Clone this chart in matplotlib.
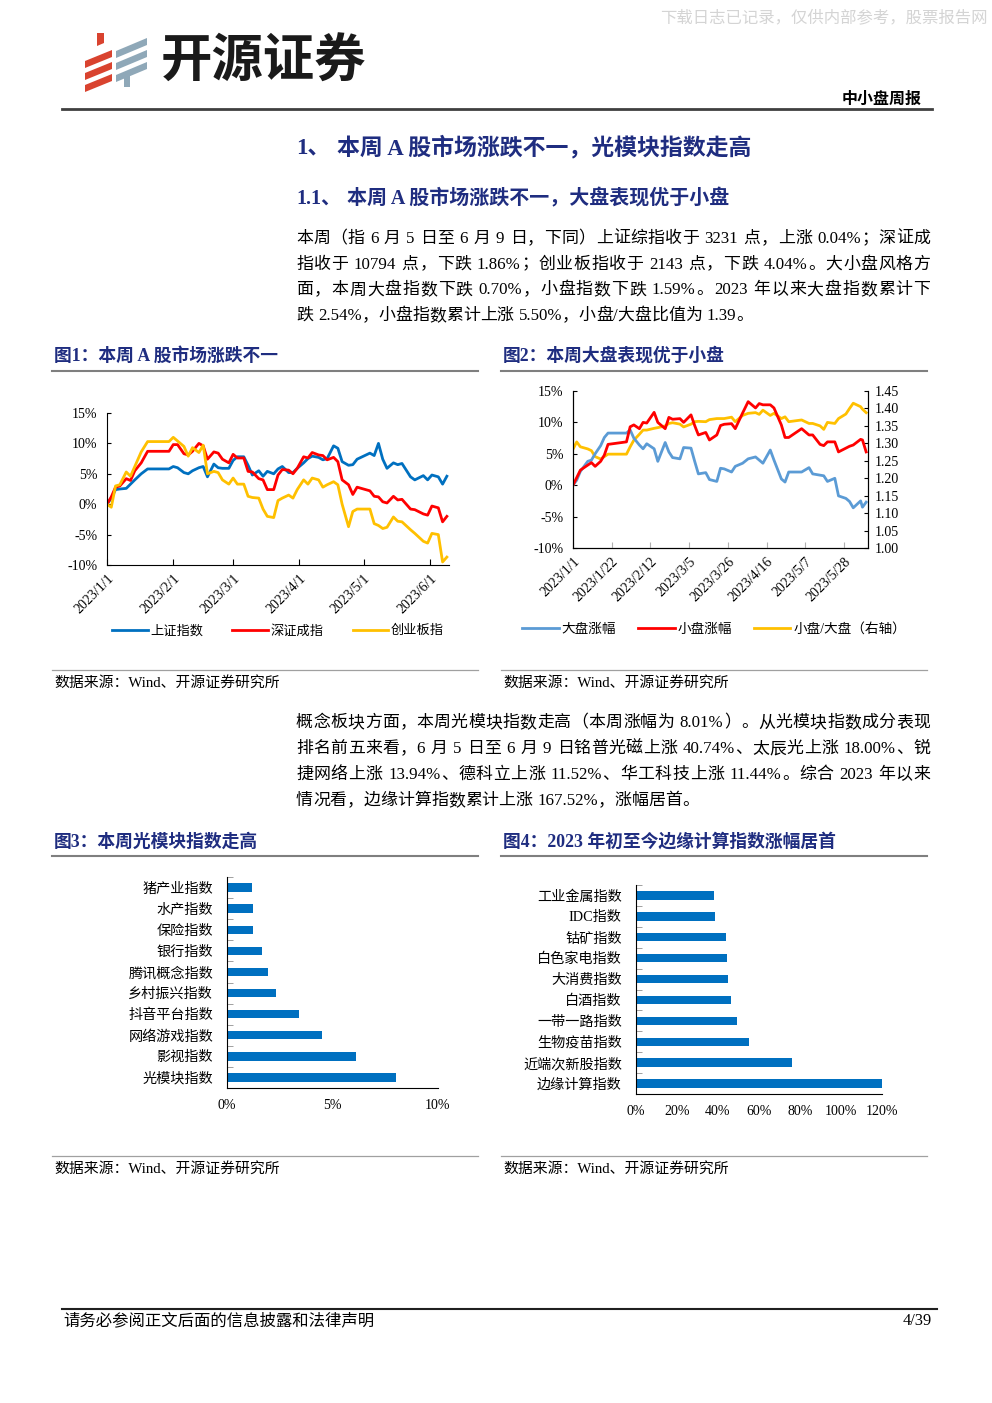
import re
import numpy as np
import pandas as pd
import matplotlib
matplotlib.use("Agg")
import matplotlib.pyplot as plt
from matplotlib.patches import Polygon
from matplotlib.lines import Line2D
from matplotlib.ticker import FuncFormatter

plt.rcParams['font.family'] = ['Liberation Serif', 'Noto Sans CJK SC']
plt.rcParams['axes.unicode_minus'] = False

W, H = 992, 1403
NAVY = '#1F2D80'

# -- 图1 本周A股市场涨跌不一 (%)
dates1 = ['2023-01-01', '2023-01-03', '2023-01-05', '2023-01-07', '2023-01-10', '2023-01-12',
          '2023-01-14', '2023-01-17', '2023-01-20', '2023-01-30', '2023-02-01', '2023-02-03',
          '2023-02-06', '2023-02-08', '2023-02-10', '2023-02-13', '2023-02-15', '2023-02-17',
          '2023-02-20', '2023-02-22', '2023-02-24', '2023-02-27', '2023-03-01', '2023-03-03',
          '2023-03-06', '2023-03-08', '2023-03-10', '2023-03-13', '2023-03-15', '2023-03-17',
          '2023-03-20', '2023-03-22', '2023-03-24', '2023-03-27', '2023-03-29', '2023-03-31',
          '2023-04-03', '2023-04-05', '2023-04-07', '2023-04-10', '2023-04-12', '2023-04-14',
          '2023-04-17', '2023-04-19', '2023-04-21', '2023-04-24', '2023-04-26', '2023-04-28',
          '2023-05-04', '2023-05-06', '2023-05-08', '2023-05-10', '2023-05-12', '2023-05-15',
          '2023-05-17', '2023-05-19', '2023-05-23', '2023-05-25', '2023-05-29', '2023-05-31',
          '2023-06-02', '2023-06-05', '2023-06-07', '2023-06-09']
sh_index = [0, 1.0, 2.4, 2.5, 2.6, 3.3, 4.0, 5.0, 5.8, 5.8, 6.2, 6.0, 5.2, 5.0, 5.5, 6.0,
            6.2, 4.5, 6.6, 6.0, 5.9, 5.9, 7.2, 7.8, 7.8, 6.4, 4.8, 5.5, 4.6, 5.4, 5.0, 5.8,
            6.2, 5.2, 5.2, 5.9, 6.8, 7.5, 7.9, 7.7, 7.3, 7.5, 9.6, 9.2, 7.0, 6.4, 6.5, 7.4,
            8.4, 8.0, 10.0, 7.4, 5.9, 6.8, 6.5, 6.7, 4.5, 4.0, 4.7, 4.0, 4.8, 4.5, 3.3, 4.6]
sz_index = [0, 1.2, 2.8, 3.0, 4.2, 3.9, 5.5, 6.8, 8.7, 8.7, 9.8, 9.8, 8.3, 8.1, 8.7, 10.0,
            9.6, 7.4, 8.6, 8.4, 7.4, 6.8, 8.2, 7.6, 7.6, 5.4, 5.3, 4.2, 4.0, 2.4, 2.4, 4.8,
            5.7, 5.6, 5.0, 5.9, 7.8, 7.6, 8.5, 8.1, 8.0, 7.3, 7.7, 7.0, 4.0, 3.2, 1.6, 2.8,
            2.2, 1.3, 1.2, 0.4, 0.2, 1.3, 0.7, 0.8, -0.8, -0.9, -1.6, -1.8, -0.3, -0.6, -2.9, -2.0]
cyb_index = [0, -0.5, 3.0, 3.2, 5.3, 4.6, 6.2, 8.6, 10.3, 10.3, 11.0, 10.4, 9.5, 7.9, 9.3, 8.5,
             9.7, 5.0, 5.4, 5.2, 4.0, 3.3, 4.3, 3.3, 3.3, 1.3, 1.1, 1.0, -0.8, -2.0, -2.2, 0.6,
             1.0, 1.5, 1.0, 2.4, 4.0, 3.3, 4.3, 4.0, 2.8, 3.2, 3.7, 3.2, 0.0, -3.7, -1.2, -0.8,
             -0.8, -3.2, -3.5, -4.0, -3.8, -2.1, -2.8, -2.9, -4.2, -4.8, -6.1, -6.4, -4.8, -5.0, -9.5, -8.7]
ticks1 = ['2023-01-01', '2023-02-01', '2023-03-01', '2023-04-01', '2023-05-01', '2023-06-01']

# -- 图2 本周大盘表现优于小盘
dates2 = ['2023-01-01', '2023-01-03', '2023-01-05', '2023-01-09', '2023-01-11', '2023-01-13',
          '2023-01-16', '2023-01-18', '2023-01-20', '2023-01-30', '2023-02-01', '2023-02-03',
          '2023-02-06', '2023-02-08', '2023-02-10', '2023-02-14', '2023-02-16', '2023-02-20',
          '2023-02-22', '2023-02-24', '2023-02-28', '2023-03-02', '2023-03-06', '2023-03-08',
          '2023-03-10', '2023-03-14', '2023-03-16', '2023-03-20', '2023-03-22', '2023-03-24',
          '2023-03-28', '2023-03-30', '2023-04-03', '2023-04-06', '2023-04-10', '2023-04-12',
          '2023-04-14', '2023-04-18', '2023-04-20', '2023-04-24', '2023-04-26', '2023-04-28',
          '2023-05-05', '2023-05-09', '2023-05-11', '2023-05-15', '2023-05-17', '2023-05-19',
          '2023-05-23', '2023-05-25', '2023-05-29', '2023-05-31', '2023-06-02', '2023-06-06',
          '2023-06-07', '2023-06-09']
big_cap = [0, 0.8, 2.2, 3.8, 4.0, 5.0, 6.3, 7.6, 8.3, 8.3, 8.8, 7.5, 6.4, 5.8, 6.6, 5.8, 3.8,
           6.8, 5.3, 4.4, 4.2, 6.0, 5.9, 3.8, 1.8, 2.0, 0.9, 0.6, 2.7, 2.6, 2.1, 3.0,
           3.5, 4.2, 4.5, 4.0, 3.5, 5.6, 4.0, 1.0, 0.5, 2.1, 2.1, 2.8, 1.8, 1.6, 1.5, 0.6,
           1.1, -1.7, -2.1, -2.6, -3.6, -2.5, -3.5, -2.7]
small_cap = [0, 1.2, 2.4, 3.2, 3.6, 3.0, 3.8, 4.8, 6.5, 6.9, 9.3, 9.6, 9.0, 10.0, 9.9, 11.6, 10.0,
             9.0, 10.8, 10.5, 10.6, 10.0, 11.2, 9.5, 8.0, 8.4, 7.2, 8.0, 9.5, 9.7, 9.8, 9.0,
             11.5, 13.3, 12.3, 13.0, 12.8, 12.8, 12.3, 9.6, 7.6, 7.6, 9.0, 8.0, 8.0, 6.5, 6.3, 6.9,
             6.9, 5.3, 5.9, 6.2, 6.4, 7.3, 7.2, 5.3]
ratio = [1.283, 1.304, 1.290, 1.284, 1.279, 1.262, 1.255, 1.262, 1.269, 1.269, 1.290, 1.309,
         1.326, 1.338, 1.338, 1.343, 1.345, 1.350, 1.357, 1.359, 1.355, 1.347, 1.355, 1.362,
         1.363, 1.362, 1.368, 1.371, 1.371, 1.371, 1.375, 1.362, 1.380, 1.386, 1.388, 1.383,
         1.395, 1.380, 1.386, 1.371, 1.376, 1.362, 1.367, 1.357, 1.357, 1.350, 1.340, 1.360,
         1.357, 1.371, 1.384, 1.400, 1.415, 1.405, 1.398, 1.388]
ticks2 = ['2023-01-01', '2023-01-22', '2023-02-12', '2023-03-05', '2023-03-26', '2023-04-16',
          '2023-05-07', '2023-05-28']

# -- 图3 本周光模块指数走高 (%)
labels3 = ['猪产业指数', '水产指数', '保险指数', '银行指数', '腾讯概念指数', '乡村振兴指数',
           '抖音平台指数', '网络游戏指数', '影视指数', '光模块指数']
values3 = [1.18, 1.23, 1.23, 1.67, 1.96, 2.34, 3.41, 4.52, 6.13, 8.01]

# -- 图4 2023年初至今边缘计算指数涨幅居首 (%)
labels4 = ['工业金属指数', 'IDC指数', '钴矿指数', '白色家电指数', '大消费指数', '白酒指数',
           '一带一路指数', '生物疫苗指数', '近端次新股指数', '边缘计算指数']
values4 = [38.0, 38.7, 44.1, 44.6, 45.0, 46.5, 49.4, 55.3, 76.3, 167.52]

para1 = ['本周（指 6 月 5 日至 6 月 9 日，下同）上证综指收于 3231 点，上涨 0.04%；深证成',
         '指收于 10794 点，下跌 1.86%；创业板指收于 2143 点，下跌 4.04%。大小盘风格方',
         '面，本周大盘指数下跌 0.70%，小盘指数下跌 1.59%。2023 年以来大盘指数累计下',
         '跌 2.54%，小盘指数累计上涨 5.50%，小盘/大盘比值为 1.39。']
para2 = ['概念板块方面，本周光模块指数走高（本周涨幅为 8.01%）。从光模块指数成分表现',
         '排名前五来看，6 月 5 日至 6 月 9 日铭普光磁上涨 40.74%、太辰光上涨 18.00%、锐',
         '捷网络上涨 13.94%、德科立上涨 11.52%、华工科技上涨 11.44%。综合 2023 年以来',
         '情况看，边缘计算指数累计上涨 167.52%，涨幅居首。']


def rect(x0, y0, x1, y1):
    return [x0 / W, 1 - y1 / H, (x1 - x0) / W, (y1 - y0) / H]


fig = plt.figure(figsize=(W / 100, H / 100), dpi=100)
page = fig.add_axes([0, 0, 1, 1])
page.set_xlim(0, W)
page.set_ylim(H, 0)
page.axis('off')

# header
page.text(660, 18, '下载日志已记录，仅供内部参考，股票报告网', fontsize=11.8, color='#d4d4d4',
          va='center', ha='left')
for k in range(3):
    y0 = 50 + k * 12
    page.add_patch(Polygon([(85, y0 + 11), (112, y0), (112, y0 + 7), (85, y0 + 18)],
                           color='#D9432F', lw=0))
    y0 = 40 + k * 12
    page.add_patch(Polygon([(116, y0 + 11), (147, y0 - 2), (147, y0 + 5), (116, y0 + 18)],
                           color='#8FA8B8', lw=0))
page.add_patch(Polygon([(97, 33), (104, 33), (104, 43), (97, 46)], color='#D9432F', lw=0))
page.add_patch(Polygon([(124, 77), (130, 75), (130, 87), (124, 87)], color='#8FA8B8', lw=0))
page.text(161, 61, '开源证券', fontsize=37, weight='black', color='#1a1a1a', va='center',
          family=['Noto Sans CJK SC'])
page.text(922, 100, '中小盘周报', fontsize=11.5, weight='bold', ha='right', va='center')
page.plot([62, 932], [109, 109], color='#404040', lw=2)

# headings
page.text(296, 148, '1、', fontsize=16.5, weight='bold', color=NAVY, va='center')
page.text(337, 148, '本周 A 股市场涨跌不一，光模块指数走高', fontsize=16.5, weight='bold',
          color=NAVY, va='center')
page.text(296, 199, '1.1、', fontsize=14.4, weight='bold', color=NAVY, va='center')
page.text(347, 199, '本周 A 股市场涨跌不一，大盘表现优于小盘', fontsize=14.4, weight='bold',
          color=NAVY, va='center')

pending = []


def text_line(s, x0, y, size, x1=None):
    toks = re.findall(r'[0-9A-Za-z.%/]+| +|.', s)
    items = []
    spaced = False
    for t in toks:
        if t.strip():
            items.append((page.text(x0, y, t, fontsize=size, va='center', ha='left'), spaced))
            spaced = False
        else:
            spaced = True
    pending.append((items, x0, x1, size))


for i, line in enumerate(para1):
    text_line(line, 296, 239 + i * 25.7, 12.2, None if i == len(para1) - 1 else 930)
for i, line in enumerate(para2):
    text_line(line, 296, 723 + i * 26, 12.2, None if i == len(para2) - 1 else 930)

# captions, rules, sources
for x0, x1, cy, ly, cap, sy, sly in [
        (52, 478, 356, 371, '图1：本周 A 股市场涨跌不一', 683, 670),
        (501, 927, 356, 371, '图2：本周大盘表现优于小盘', 683, 670),
        (52, 478, 842, 856, '图3：本周光模块指数走高', 1169, 1156),
        (501, 927, 842, 856, '图4：2023 年初至今边缘计算指数涨幅居首', 1169, 1156)]:
    page.text(x0 + 2, cy, cap, fontsize=12.8, weight='bold', color=NAVY, va='center')
    page.plot([x0, x1], [ly, ly], color='#7f7f7f', lw=1.5)
    page.plot([x0, x1], [sly, sly], color='#a0a0a0', lw=0.9)
    page.text(x0 + 2, sy, '数据来源：Wind、开源证券研究所', fontsize=10.7, va='center')

# footer
page.plot([62, 937], [1309, 1309], color='#202020', lw=1.5)
page.text(63, 1321, '请务必参阅正文后面的信息披露和法律声明', fontsize=11.8, va='center')
page.text(932, 1321, '4/39', fontsize=11.8, va='center', ha='right')

pct = FuncFormatter(lambda v, p: f'{v:.0f}%')

# -- chart 1
d1 = pd.to_datetime(dates1)
ax1 = fig.add_axes(rect(107, 413, 449, 565))
ax1.plot(d1, sh_index, color='#0070C0', lw=2, label='上证指数')
ax1.plot(d1, sz_index, color='#FF0000', lw=2, label='深证成指')
ax1.plot(d1, cyb_index, color='#FFC000', lw=2, label='创业板指')
ax1.set_ylim(-10, 15)
ax1.set_yticks(range(-10, 16, 5))
ax1.yaxis.set_major_formatter(pct)
ax1.set_xlim(pd.Timestamp('2023-01-01'), pd.Timestamp('2023-06-10'))
t1 = pd.to_datetime(ticks1)
ax1.set_xticks(t1)
ax1.set_xticklabels([f'{t.year}/{t.month}/{t.day}' for t in t1], rotation=45, ha='right',
                    rotation_mode='anchor')
ax1.tick_params(direction='in', length=3, labelsize=10, pad=7)
ax1.tick_params(axis='x', length=4, pad=5)
for s in ['top', 'right']:
    ax1.spines[s].set_visible(False)
h1, l1 = ax1.get_legend_handles_labels()
fig.legend(h1, l1, loc='center', bbox_to_anchor=(278 / W, 1 - 631 / H), ncol=3,
           frameon=False, fontsize=9.5, handlelength=2.7, handletextpad=0.2, columnspacing=2.2)

# -- chart 2
d2 = pd.to_datetime(dates2)
ax2 = fig.add_axes(rect(573, 391, 868, 548))
ax2r = ax2.twinx()
ax2.plot(d2, big_cap, color='#5B9BD5', lw=2)
ax2.plot(d2, small_cap, color='#FF0000', lw=2)
ax2r.plot(d2, ratio, color='#FFC000', lw=2)
ax2.set_zorder(ax2r.get_zorder() + 1)
ax2.patch.set_visible(False)
ax2.set_ylim(-10, 15)
ax2.set_yticks(range(-10, 16, 5))
ax2.yaxis.set_major_formatter(pct)
ax2r.set_ylim(1.0, 1.45)
ax2r.set_yticks(np.arange(1.0, 1.451, 0.05))
ax2r.yaxis.set_major_formatter(FuncFormatter(lambda v, p: f'{v:.2f}'))
ax2.set_xlim(pd.Timestamp('2023-01-01'), pd.Timestamp('2023-06-10'))
t2 = pd.to_datetime(ticks2)
ax2.set_xticks(t2)
ax2.set_xticklabels([f'{t.year}/{t.month}/{t.day}' for t in t2], rotation=45, ha='right',
                    rotation_mode='anchor')
ax2.tick_params(direction='in', length=3, labelsize=10, pad=7)
ax2.tick_params(axis='x', length=4, pad=5, color='#b0b0b0')
ax2r.tick_params(direction='in', length=3, labelsize=10, pad=5)
for a in (ax2, ax2r):
    a.spines['top'].set_visible(False)
h2 = [Line2D([], [], color='#5B9BD5', lw=2), Line2D([], [], color='#FF0000', lw=2),
      Line2D([], [], color='#FFC000', lw=2)]
fig.legend(h2, ['大盘涨幅', '小盘涨幅', '小盘/大盘（右轴）'], loc='center',
           bbox_to_anchor=(714 / W, 1 - 629 / H), ncol=3, frameon=False, fontsize=9.8,
           handlelength=2.7, handletextpad=0.2, columnspacing=1.6)


# -- bar charts
def bar_chart(box, labels, values, xmax, step):
    ax = fig.add_axes(rect(*box))
    y = np.arange(len(labels))
    ax.barh(y, values, height=0.4, color='#0070C0')
    ax.set_ylim(len(labels) - 0.5, -0.5)
    ax.set_yticks(y)
    ax.set_yticklabels(labels, fontsize=10.2)
    ax.set_yticks(np.arange(-0.5, len(labels), 1.0), minor=True)
    ax.tick_params(axis='y', which='major', length=0, pad=10)
    ax.tick_params(axis='y', which='minor', length=4, direction='in', color='#909090')
    ax.set_xlim(0, xmax)
    ax.set_xticks(np.arange(0, xmax + step / 2, step))
    ax.xaxis.set_major_formatter(pct)
    ax.tick_params(axis='x', length=0, pad=8, labelsize=10)
    for s in ['top', 'right']:
        ax.spines[s].set_visible(False)
    return ax


bar_chart((227, 877, 437.7, 1088), labels3, values3, 10, 5)
bar_chart((635.7, 885, 881.7, 1094), labels4, values4, 120, 20)

# justify paragraph lines: spaces add a fixed width, leftover is shared between tokens
fig.canvas.draw()
r = fig.canvas.get_renderer()
for items, x0, x1, size in pending:
    sp = size * 100 / 72 * 0.3
    widths = [it.get_window_extent(r).width + (sp if spaced else 0) for it, spaced in items]
    gap = 0
    if x1 is not None and len(items) > 1:
        gap = (x1 - x0 - sum(widths)) / (len(items) - 1)
    x = x0
    for (it, spaced), w in zip(items, widths):
        if spaced:
            x += sp
            w -= sp
        it.set_x(x)
        x += w + gap

fig.savefig('out.png', dpi=100)
